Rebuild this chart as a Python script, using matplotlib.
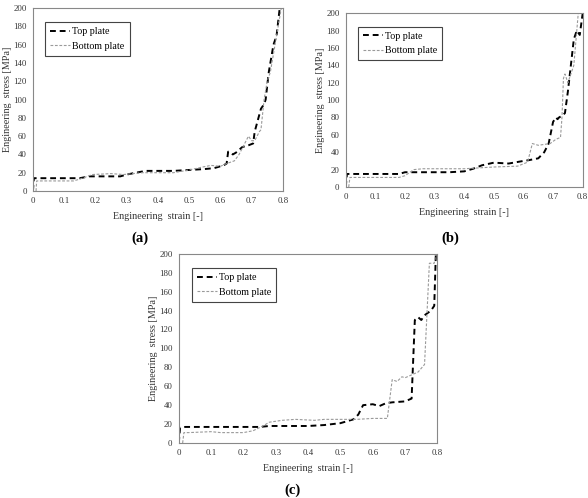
import matplotlib
matplotlib.use("Agg")
import matplotlib.pyplot as plt

plt.rcParams["font.family"] = ["Liberation Serif", "DejaVu Serif"]

# Panel (a)
a_top_x = [0, 0.003, 0.01, 0.15, 0.18, 0.28, 0.30, 0.33, 0.36, 0.45, 0.50, 0.55, 0.58, 0.61, 0.62, 0.625,
           0.64, 0.65, 0.67, 0.69, 0.705, 0.71, 0.73, 0.74, 0.745, 0.755, 0.77, 0.78, 0.79]
a_top_y = [0, 14, 14, 14, 16, 16, 18, 20, 22, 22, 23, 24, 25, 28, 30, 43,
           40, 42, 48, 50, 52, 65, 90, 95, 100, 130, 160, 170, 200]
a_bot_x = [0.01, 0.012, 0.02, 0.13, 0.15, 0.19, 0.25, 0.29, 0.35, 0.45, 0.50, 0.54, 0.57, 0.60, 0.62,
           0.645, 0.66, 0.675, 0.69, 0.70, 0.71, 0.725, 0.73, 0.74, 0.75, 0.76, 0.775, 0.79, 0.795]
a_bot_y = [0, 11, 11, 11, 13, 18, 19, 18, 20, 20, 23, 26, 28, 27, 30,
           33, 40, 50, 60, 55, 55, 65, 67, 100, 120, 130, 160, 190, 200]

# Panel (b)
b_top_x = [0, 0.004, 0.01, 0.18, 0.20, 0.35, 0.40, 0.43, 0.46, 0.50, 0.55, 0.60, 0.62, 0.65, 0.67,
           0.685, 0.70, 0.71, 0.715, 0.72, 0.73, 0.74, 0.75, 0.76, 0.77, 0.78, 0.79, 0.80]
b_top_y = [0, 15, 15, 15, 17, 17, 18, 21, 25, 28, 27, 30, 31, 33, 40,
           50, 75, 80, 78, 80, 82, 85, 110, 140, 170, 180, 175, 200]
b_bot_x = [0.01, 0.014, 0.02, 0.18, 0.20, 0.23, 0.26, 0.40, 0.45, 0.50, 0.58, 0.61, 0.615, 0.63,
           0.65, 0.67, 0.69, 0.71, 0.725, 0.73, 0.735, 0.74, 0.75, 0.76, 0.77, 0.78, 0.785]
b_bot_y = [0, 11, 11, 11, 13, 20, 21, 21, 22, 23, 24, 28, 30, 50,
           48, 49, 50, 55, 57, 80, 125, 130, 120, 130, 140, 180, 200]

# Panel (c)
c_top_x = [0, 0.004, 0.02, 0.25, 0.28, 0.40, 0.45, 0.50, 0.54, 0.555, 0.57, 0.60, 0.62, 0.64, 0.66,
           0.70, 0.72, 0.73, 0.74, 0.75, 0.76, 0.78, 0.79, 0.795]
c_top_y = [0, 16, 17, 17, 18, 18, 19, 21, 25, 30, 40, 41, 39, 42, 43,
           44, 47, 130, 133, 130, 135, 140, 145, 200]
c_bot_x = [0.012, 0.016, 0.03, 0.10, 0.13, 0.20, 0.23, 0.26, 0.28, 0.32, 0.36, 0.42, 0.45, 0.55,
           0.60, 0.645, 0.66, 0.675, 0.69, 0.70, 0.72, 0.74, 0.76, 0.775, 0.79, 0.795]
c_bot_y = [0, 11, 11, 12, 11, 11, 13, 18, 22, 24, 25, 24, 25, 25,
           26, 26, 67, 65, 70, 69, 72, 75, 83, 190, 190, 200]

panels = [
    ("(a)", [0.056, 0.6165, 0.425, 0.367], a_top_x, a_top_y, a_bot_x, a_bot_y, (0.238, 0.522)),
    ("(b)", [0.588, 0.6245, 0.403, 0.349], b_top_x, b_top_y, b_bot_x, b_bot_y, (0.765, 0.522)),
    ("(c)", [0.304, 0.1104, 0.440, 0.380], c_top_x, c_top_y, c_bot_x, c_bot_y, (0.498, 0.016)),
]

fig = plt.figure(figsize=(5.88, 4.98), dpi=100)

for label, rect, tx, ty, bx, by, lab_pos in panels:
    ax = fig.add_axes(rect)
    ax.plot(tx, ty, color="black", lw=1.4, ls=(0, (3, 2)), label="Top plate")
    ax.plot(bx, by, color="#9a9a9a", lw=0.8, ls=(0, (2.5, 1.5)), label="Bottom plate")
    ax.set_xlim(0, 0.8)
    ax.set_ylim(0, 200)
    ax.set_xticks([0, 0.1, 0.2, 0.3, 0.4, 0.5, 0.6, 0.7, 0.8])
    ax.set_xticklabels(["0", "0.1", "0.2", "0.3", "0.4", "0.5", "0.6", "0.7", "0.8"])
    ax.set_yticks(range(0, 201, 20))
    ax.tick_params(length=0, labelsize=6.3, colors="#333333", pad=4.5)
    for s in ax.spines.values():
        s.set_color("#888888")
        s.set_linewidth(0.8)
    ax.set_xlabel("Engineering  strain [-]", fontsize=7.3, color="#333333", labelpad=5)
    ax.set_ylabel("Engineering  stress [MPa]", fontsize=7.3, color="#333333", labelpad=0.5)
    leg = ax.legend(loc="upper left", bbox_to_anchor=(0.03, 0.95), fontsize=7.2,
                    fancybox=False, framealpha=1, edgecolor="#444444", handlelength=2.0,
                    handletextpad=0.2, borderpad=0.5, labelspacing=0.55)
    leg.get_frame().set_linewidth(0.8)
    fig.text(lab_pos[0], lab_pos[1], label, fontsize=10.5, fontweight="bold",
             ha="center", va="center")

fig.savefig("out.png", dpi=100)
